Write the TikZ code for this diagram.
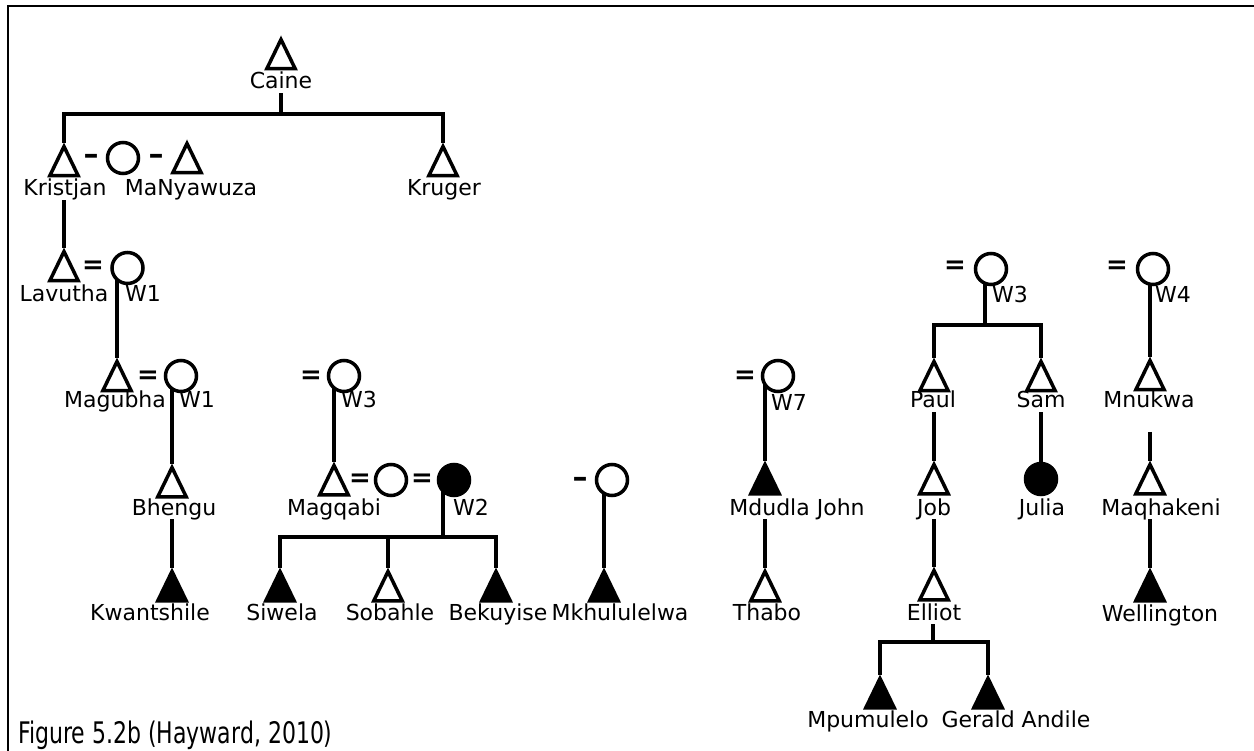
\documentclass[tikz,border=0pt]{standalone}
\usepackage{fontspec}
\setmainfont{DejaVu Sans}
\usetikzlibrary{shapes.geometric}
\pgfdeclarelayer{bg}
\pgfsetlayers{bg,main}

\begin{document}
\begin{tikzpicture}[x=1pt,y=-1pt,
        male/.style={regular polygon,regular polygon sides=3,draw,line width=3.5pt,minimum size=39pt,inner sep=0pt,xscale=0.84,transform shape,fill=white},
        malef/.style={male,fill=black},
        female/.style={circle,draw,line width=3.5pt,minimum size=31pt,inner sep=0pt,fill=white},
        femalef/.style={female,fill=black},
        lbl/.style={anchor=base,inner sep=0pt,text height=16pt,text depth=4pt,font=\fontsize{22}{26}\selectfont},
        bond/.style={inner sep=0pt,font=\fontsize{26}{30}\selectfont\bfseries},
        link/.style={line width=4pt}]
        \useasboundingbox (0,0) rectangle (1254,751);
        \draw[line width=2.5pt] (8,751) -- (8,6) -- (1254,6);% Frame

        % Caine and sons
        \node[male] (caine) at (281,59) {};
        \node[lbl] (caineL) at (281,89) {Caine};
        \coordinate (sib1) at (281,114);
        \node[male] (kristjan) at (64,166) {};
        \node[bond,font=\fontsize{30}{34}\selectfont\bfseries] (d1) at (91,159) {--};
        \node[female] (many) at (123,158) {};
        \node[bond,font=\fontsize{30}{34}\selectfont\bfseries] (d2) at (156,159) {--};
        \node[male] (other) at (187,163) {};
        \node[male] (kruger) at (443,166) {};
        \node[lbl] (kristjanL) at (65,196) {Kristjan};
        \node[lbl] (manyL) at (191,196) {MaNyawuza};
        \node[lbl] (krugerL) at (444,196) {Kruger};

        % Lavutha line
        \node[male] (lavutha) at (64,271) {};
        \node[bond] (e1) at (93,267) {=};
        \node[female] (wa) at (127.5,268) {};
        \node[lbl] (lavuthaL) at (64,302) {Lavutha};
        \node[lbl] (waL) at (143,302) {W1};
        \node[male] (magubha) at (117,381) {};
        \node[bond] (e2) at (148,377) {=};
        \node[female] (wb) at (181,376) {};
        \node[lbl] (magubhaL) at (115,408) {Magubha};
        \node[lbl] (wbL) at (197,408) {W1};
        \node[male] (bhengu) at (172,487) {};
        \node[lbl] (bhenguL) at (174,515) {Bhengu};
        \node[malef] (kwantshile) at (172,591) {};
        \node[lbl] (kwantshileL) at (150,620) {Kwantshile};

        % Magqabi line
        \node[bond] (e3) at (311,377) {=};
        \node[female] (wc) at (344,376) {};
        \node[lbl] (wcL) at (359,408) {W3};
        \node[male] (magqabi) at (334,485) {};
        \node[bond] (e4) at (360,480) {=};
        \node[female] (wd) at (391,480) {};
        \node[bond] (e5) at (422,480) {=};
        \node[femalef] (we) at (454,480) {};
        \node[lbl] (magqabiL) at (334,515) {Magqabi};
        \node[lbl] (weL) at (471,515) {W2};
        \coordinate (sib2) at (443,537);
        \node[malef] (siwela) at (280,591) {};
        \node[male] (sobahle) at (388,591) {};
        \node[malef] (bekuyise) at (496,591) {};
        \node[lbl] (siwelaL) at (282,620) {Siwela};
        \node[lbl] (sobahleL) at (390,620) {Sobahle};
        \node[lbl] (bekuyiseL) at (498,620) {Bekuyise};

        % Mkhululelwa
        \node[bond,font=\fontsize{30}{34}\selectfont\bfseries] (d3) at (580,482) {--};
        \node[female] (wf) at (612,480) {};
        \node[malef] (mkhul) at (604,591) {};
        \node[lbl] (mkhulL) at (620,620) {Mkhululelwa};

        % Mdudla John line
        \node[bond] (e6) at (745,377) {=};
        \node[female] (wg) at (778,376) {};
        \node[lbl] (wgL) at (789,410) {W7};
        \node[malef] (mdudla) at (765,484) {};
        \node[lbl] (mdudlaL) at (797,515) {Mdudla John};
        \node[male] (thabo) at (765,591) {};
        \node[lbl] (thaboL) at (767,620) {Thabo};

        % Paul and Sam line
        \node[bond] (e7) at (955,267) {=};
        \node[female] (wh) at (991,269) {};
        \node[lbl] (whL) at (1010,303) {W3};
        \coordinate (sib3) at (985,325);
        \node[male] (paul) at (934,381) {};
        \node[male] (sam) at (1041,381) {};
        \node[lbl] (paulL) at (933,408) {Paul};
        \node[lbl] (samL) at (1041,408) {Sam};
        \node[male] (job) at (934,484) {};
        \node[lbl] (jobL) at (934,515) {Job};
        \node[femalef] (julia) at (1041,479) {};
        \node[lbl] (juliaL) at (1042,515) {Julia};
        \node[male] (elliot) at (934,590) {};
        \node[lbl] (elliotL) at (934,620) {Elliot};
        \coordinate (sib4) at (933,642);
        \node[malef] (mpumulelo) at (880,698) {};
        \node[malef] (gerald) at (988,698) {};
        \node[lbl] (mpumuleloL) at (868,727) {Mpumulelo};
        \node[lbl] (geraldL) at (1016,727) {Gerald Andile};

        % Mnukwa line
        \node[bond] (e8) at (1117,267) {=};
        \node[female] (wi) at (1153,269) {};
        \node[lbl] (wiL) at (1173,303) {W4};
        \node[male] (mnukwa) at (1150,380) {};
        \node[lbl] (mnukwaL) at (1149,408) {Mnukwa};
        \coordinate (gapM) at (1150,432);
        \node[male] (maqhakeni) at (1150,484) {};
        \node[lbl] (maqhakeniL) at (1161,515) {Maqhakeni};
        \node[malef] (wellington) at (1150,591) {};
        \node[lbl] (wellingtonL) at (1160,621) {Wellington};

        \node[anchor=base west,inner sep=0pt,font=\fontsize{22}{26}\selectfont,yscale=1.35,transform shape] (caption) at (18,743) {Figure 5.2b (Hayward, 2010)};

        \begin{pgfonlayer}{bg}
        \draw[link] (caineL.south) -- (sib1);
        \draw[link] (kristjan.corner 1) |- (sib1) -| (kruger.corner 1);
        \draw[link] (lavutha.corner 1 |- kristjanL.south) -- (lavutha.corner 1);
        \draw[link] (magubha.corner 1 |- wa.center) -- (magubha.corner 1);
        \draw[link] (bhengu.corner 1 |- wb.center) -- (bhengu.corner 1);
        \draw[link] (kwantshile.corner 1 |- bhenguL.south) -- (kwantshile.corner 1);
        \draw[link] (magqabi.corner 1 |- wc.center) -- (magqabi.corner 1);
        \draw[link] (sib2 |- we.center) -- (sib2);
        \draw[link] (siwela.corner 1) |- (sib2) -| (bekuyise.corner 1);
        \draw[link] (sobahle.corner 1 |- sib2) -- (sobahle.corner 1);
        \draw[link] (mkhul.corner 1 |- wf.center) -- (mkhul.corner 1);
        \draw[link] (mdudla.corner 1 |- wg.center) -- (mdudla.corner 1);
        \draw[link] (thabo.corner 1 |- mdudlaL.south) -- (thabo.corner 1);
        \draw[link] (sib3 |- wh.center) -- (sib3);
        \draw[link] (paul.corner 1) |- (sib3) -| (sam.corner 1);
        \draw[link] (job.corner 1 |- paulL.south) -- (job.corner 1);
        \draw[link] (julia.center |- samL.south) -- (julia.center);
        \draw[link] (elliot.corner 1 |- jobL.south) -- (elliot.corner 1);
        \draw[link] (sib4 |- elliotL.south) -- (sib4);
        \draw[link] (mpumulelo.corner 1) |- (sib4) -| (gerald.corner 1);
        \draw[link] (mnukwa.corner 1 |- wi.center) -- (mnukwa.corner 1);
        \draw[link] (maqhakeni.corner 1 |- gapM) -- (maqhakeni.corner 1);
        \draw[link] (wellington.corner 1 |- maqhakeniL.south) -- (wellington.corner 1);
        \end{pgfonlayer}
\end{tikzpicture}
\end{document}
